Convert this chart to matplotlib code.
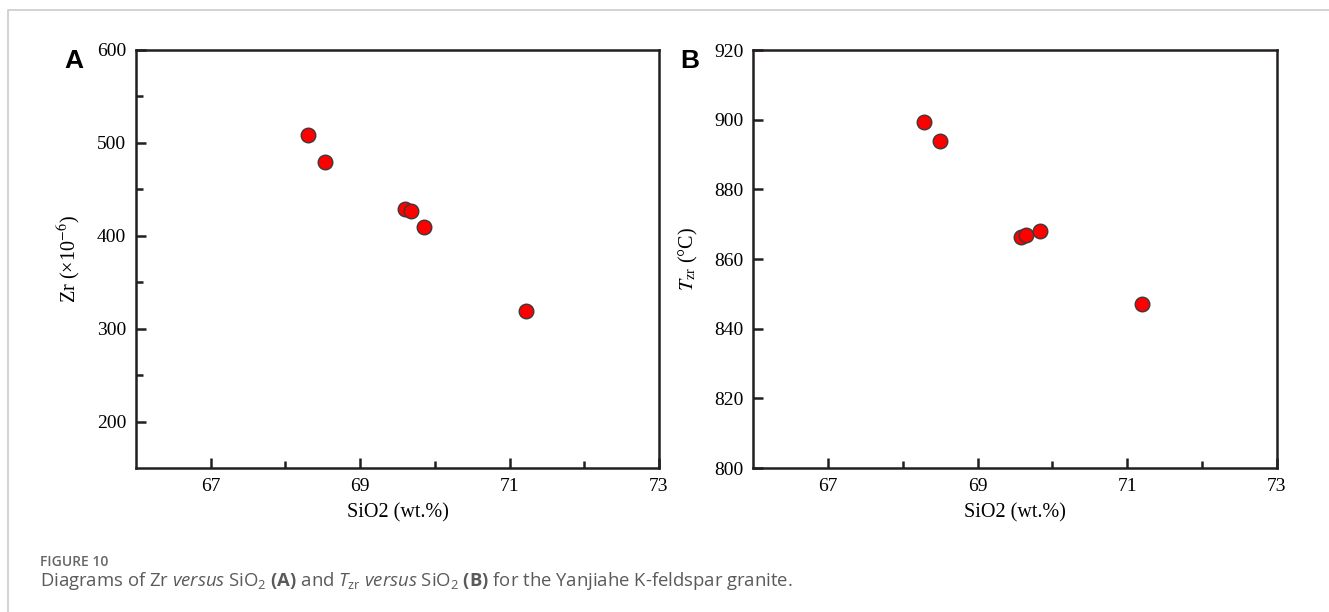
import matplotlib
matplotlib.use("Agg")
import matplotlib.pyplot as plt
from matplotlib.lines import Line2D
from matplotlib.ticker import MultipleLocator

# data
sio2_a = [68.30, 68.53, 69.60, 69.68, 69.85, 71.22]
zr = [508.6, 479.0, 429.0, 426.5, 409.3, 319.4]

sio2_b = [68.28, 68.50, 69.58, 69.65, 69.83, 71.19]
tzr = [899.2, 894.0, 866.2, 866.9, 868.1, 847.1]

x_major = [67, 69, 71, 73]
x_minor = [68, 70, 72]

plt.rcParams['mathtext.fontset'] = 'custom'
plt.rcParams['mathtext.rm'] = 'Open Sans'
plt.rcParams['mathtext.it'] = 'Open Sans:italic'
plt.rcParams['mathtext.bf'] = 'Open Sans:bold'

serif = ['Liberation Serif', 'DejaVu Serif', 'DejaVu Sans']
ink = '#231f20'

W, H = 1329, 612
fig = plt.figure(figsize=(W / 100, H / 100), dpi=100)

ax1 = fig.add_axes([136 / W, 1 - 468 / H, 523 / W, 418 / H])
ax2 = fig.add_axes([753 / W, 1 - 468 / H, 524 / W, 418 / H])


def style(ax):
    for s in ax.spines.values():
        s.set_linewidth(1.8)
        s.set_color(ink)
    ax.set_xlim(66, 73)
    ax.set_xticks(x_major)
    ax.set_xticks(x_minor, minor=True)
    ax.tick_params(which='major', direction='in', length=7, width=1.8,
                   color=ink, labelsize=14, pad=7)
    ax.tick_params(which='minor', direction='in', length=5, width=1.8,
                   color=ink)
    for lab in ax.get_xticklabels() + ax.get_yticklabels():
        lab.set_family(serif)
    ax.set_xlabel('SiO2 (wt.%)', family=serif, fontsize=14.5, labelpad=6)


ax1.scatter(sio2_a, zr, s=110, c='#ff0000', edgecolors='#3a3a3a',
            linewidths=1, zorder=3)
ax1.set_ylim(150, 600)
ax1.yaxis.set_major_locator(MultipleLocator(100))
ax1.set_yticks([250, 350, 450, 550], minor=True)
style(ax1)
ax1.set_ylabel('Zr (×10$^{-6}$)', family=serif, fontsize=14.5,
               math_fontfamily='stix', labelpad=10)

ax2.scatter(sio2_b, tzr, s=110, c='#ff0000', edgecolors='#3a3a3a',
            linewidths=1, zorder=3)
ax2.set_ylim(800, 920)
ax2.yaxis.set_major_locator(MultipleLocator(20))
style(ax2)
ax2.set_ylabel('$T_{\\mathrm{zr}}$ (°C)', family=serif,
               fontsize=14.5, math_fontfamily='stix', labelpad=10)

# panel letters
fig.text(73.5 / W, 1 - 61 / H, 'A', family='Liberation Sans',
         fontweight='bold', fontsize=19, ha='center', va='center')
fig.text(690 / W, 1 - 61 / H, 'B', family='Liberation Sans',
         fontweight='bold', fontsize=19, ha='center', va='center')

# frame of the figure page
fig.add_artist(Line2D([8 / W, 8 / W, 1], [0, 1 - 10 / H, 1 - 10 / H],
                      transform=fig.transFigure, color='#cccccc', lw=1.2))

# caption
fig.text(40 / W, 1 - 562 / H, 'FIGURE 10', family='Open Sans',
         fontsize=10, fontweight='semibold', color='#666666', va='center')
fig.text(40 / W, 1 - 581 / H,
         'Diagrams of Zr $\\mathit{versus}$ SiO$_2$ $\\mathbf{(A)}$ and '
         '$\\mathit{T}_{\\mathrm{zr}}$ $\\mathit{versus}$ SiO$_2$ '
         '$\\mathbf{(B)}$ for the Yanjiahe K-feldspar granite.',
         family='Open Sans', fontsize=13.3, color='#5a5a5a', va='center')

fig.savefig('out.png', dpi=100)
